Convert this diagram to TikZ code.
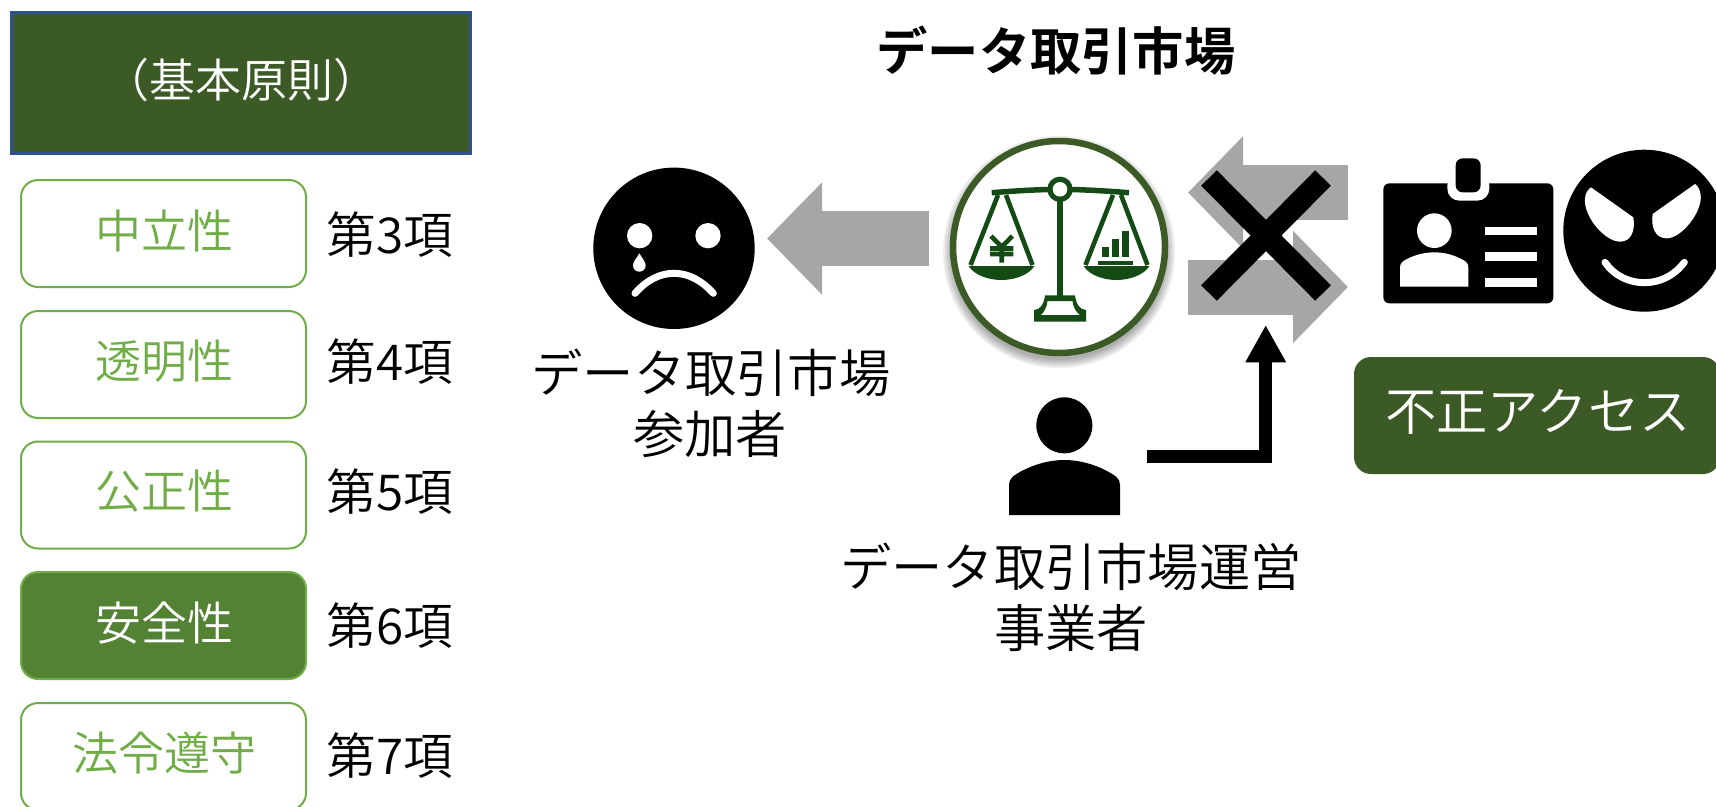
\documentclass[tikz,border=0pt]{standalone}
\usepackage{fontspec}
\usetikzlibrary{arrows.meta}
\setmainfont{Noto Sans CJK JP DemiLight}[BoldFont={Noto Sans CJK JP Bold}]
\definecolor{darkg}{HTML}{3B5A25}
\definecolor{midg}{HTML}{548235}
\definecolor{lightg}{HTML}{70AD47}
\definecolor{iconG}{HTML}{144B14}
\definecolor{edgeblue}{HTML}{2F528F}
\definecolor{grayarrow}{HTML}{A6A6A6}
\tikzset{
  px/.style={font=\fontsize{#1pt}{#1pt}\selectfont},
  basebox/.style={rounded corners=17pt,minimum width=285pt,minimum height=107pt,inner sep=0pt,outer sep=0pt,line width=2pt,draw=lightg,px=46},
  plainbox/.style={basebox,fill=white,text=lightg},
  solidbox/.style={basebox,fill=midg,text=white},
  itemno/.style={inner sep=0pt,px=49.5,text=black},
  caption/.style={inner sep=0pt,px=51.3,text=black},
  graybig/.style={draw=grayarrow,line width=55pt,-{Triangle[length=55pt,width=109pt]},color=grayarrow},
  blackelbow/.style={draw=black,line width=12.7pt,-{Triangle[length=37.3pt,width=38pt]}},
  crossbar/.style={draw=black,line width=22pt},
  face/.style={circle,fill=black,inner sep=0pt,outer sep=0pt},
}
\begin{document}
\begin{tikzpicture}[x=1pt,y=-1pt]
\clip (0,0) rectangle (1716,806);
\fill[white] (0,0) rectangle (1716,806);

% left column
\node[draw=edgeblue,fill=darkg,line width=2.5pt,minimum width=459pt,minimum height=141pt,inner sep=0pt,outer sep=0pt] (hdr) at (241,83) {};
\node[inner sep=0pt,text=white,px=46] (hdrt) at (241,80) {（基本原則）};
\node[plainbox] (b1) at (163.5,233.5) {};
\node[plainbox] (b2) at (163.5,364.5) {};
\node[plainbox] (b3) at (163.5,495) {};
\node[solidbox] (b4) at (163.5,625.5) {};
\node[plainbox] (b5) at (163.5,756.5) {};
\node[inner sep=0pt,text=lightg,px=46] (t1) at (164,231) {中立性};
\node[inner sep=0pt,text=lightg,px=46] (t2) at (164,361) {透明性};
\node[inner sep=0pt,text=lightg,px=46] (t3) at (164,491) {公正性};
\node[inner sep=0pt,text=white,px=46] (t4) at (164,623) {安全性};
\node[inner sep=0pt,text=lightg,px=46] (t5) at (164,753) {法令遵守};
\node[itemno] (n1) at (390,235) {第3項};
\node[itemno] (n2) at (390,362) {第4項};
\node[itemno] (n3) at (390,492) {第5項};
\node[itemno] (n4) at (390,626) {第6項};
\node[itemno] (n5) at (390,756) {第7項};

% title and captions
\node[inner sep=0pt,text=black,font=\fontsize{51.3pt}{51.3pt}\selectfont\bfseries] (title) at (1056,51) {データ取引市場};
\node[caption] (c1) at (711,373) {データ取引市場};
\node[caption] (c2) at (710,434) {参加者};
\node[caption] (c3) at (1071,567) {データ取引市場運営};
\node[caption] (c4) at (1071,628) {事業者};
\node[fill=darkg,rounded corners=17pt,minimum width=366pt,minimum height=117pt,inner sep=0pt,outer sep=0pt] (fraud) at (1537,415.5) {};
\node[inner sep=0pt,px=51.3,text=white] (fraudt) at (1538,412) {不正アクセス};

% gray arrows
\coordinate (ga1) at (929,238.5);
\coordinate (ga2) at (767,238.5);
\coordinate (gb1) at (1348,192.5);
\coordinate (gb2) at (1188,192.5);
\coordinate (gc1) at (1188,287);
\coordinate (gc2) at (1348,287);
\draw[graybig] (ga1) -- (ga2);
\draw[graybig] (gb1) -- (gb2);
\draw[graybig] (gc1) -- (gc2);

% cross
\coordinate (x1) at (1209,178);
\coordinate (x2) at (1323,293);
\coordinate (x3) at (1323,178);
\coordinate (x4) at (1209,293);
\draw[crossbar] (x1) -- (x2);
\draw[crossbar] (x3) -- (x4);

% elbow arrow
\coordinate (e1) at (1147.3,456.7);
\coordinate (e2) at (1265.7,456.7);
\coordinate (e3) at (1265.7,325);
\draw[blackelbow] (e1) -- (e2) -- (e3);

% balance disc with soft shadow
\foreach \r in {232,228,224,220,216}
  \fill[black,opacity=0.07] (1059,252) circle ({\r/2});
\node[circle,draw=darkg,fill=white,line width=6.5pt,minimum size=212pt,inner sep=0pt,outer sep=0pt] (bal) at (1059,247) {};
\begin{scope}[iconG]
  \draw[line width=5.5pt] (991.7,192.7) .. controls (1020,190.5) and (1040,189.5) .. (1060,189.3) .. controls (1080,189.5) and (1100,190.5) .. (1129,192.7);
  \draw[line width=6pt] (1060,189) -- (1060,296);
  \fill[iconG] (1060,189.3) circle (12.7);
  \fill[white] (1060,189.3) circle (7.3);
  % base
  \fill[iconG,even odd rule] (1045,295.3) -- (1075,295.3) .. controls (1076,304) and (1080,310) .. (1086,310) -- (1086,321.7) -- (1034,321.7) -- (1034,310) .. controls (1040,310) and (1044,304) .. (1045,295.3) -- cycle
    (1047.5,301) -- (1072.5,301) .. controls (1073,307) and (1076,312) .. (1080,315) -- (1041,315) .. controls (1044,312) and (1047,307) .. (1047.5,301) -- cycle;
  % left pan
  \draw[line width=4.6pt,line join=round] (998,195) -- (970.5,265) (1006,195) -- (1032.5,265);
  \fill (968.5,266) .. controls (975,276) and (990,280) .. (1001.5,280) .. controls (1013,280) and (1028,276) .. (1034.5,266) -- cycle;
  % right pan
  \draw[line width=4.6pt,line join=round] (1113,195) -- (1085.5,265) (1121,195) -- (1147.5,265);
  \fill (1083.5,266) .. controls (1090,276) and (1105,280) .. (1116.5,280) .. controls (1128,280) and (1143,276) .. (1149.5,266) -- cycle;
  % yen
  \draw[line width=4.6pt] (991,236) -- (1001.7,247) -- (1012.4,236) (1001.7,247) -- (1001.7,262.5) (990,248.5) -- (1013.4,248.5) (990,254) -- (1013.4,254);
  % chart
  \fill (1102,246.7) rectangle (1109.3,257.3);
  \fill (1112,239.3) rectangle (1119,257.3);
  \fill (1121.7,231.3) rectangle (1128.7,257.3);
  \fill (1098,260.7) rectangle (1133,264.7);
\end{scope}

% sad face
\node[face,minimum size=161.4pt] (sad) at (674,248.3) {};
\begin{scope}[shift={(570,150)},x=0.33333pt,y=-0.33333pt,white]
  \fill (209,257) circle (38);
  \fill (414,257) circle (38);
  \fill (208,310) .. controls (200,325) and (189,335) .. (189,346) .. controls (189,358) and (198,365) .. (208,365) .. controls (218,365) and (227,358) .. (227,346) .. controls (227,335) and (216,325) .. (208,310) -- cycle;
  \draw[line width=7pt,line cap=round] (195,430) .. controls (230,390) and (270,370) .. (312,370) .. controls (354,370) and (394,390) .. (430,430);
\end{scope}

% id card
\begin{scope}[shift={(1360,140)},x=0.33333pt,y=-0.33333pt]
  \fill[black,rounded corners=6pt] (70,130) rectangle (580,490);
  \fill[white,rounded corners=12pt] (262,100) rectangle (388,182);
  \fill[black,rounded corners=7pt] (287,55) rectangle (362,157);
  \fill[white] (223,272) circle (52);
  \fill[white] (120,440) -- (120,382) .. controls (120,368) and (130,362) .. (145,355) .. controls (170,343) and (197,337) .. (223,337) .. controls (249,337) and (276,343) .. (300,355) .. controls (315,362) and (325,368) .. (325,382) -- (325,440) -- cycle;
  \fill[white] (376,260) rectangle (530,286);
  \fill[white] (376,337) rectangle (530,362);
  \fill[white] (376,414) rectangle (530,440);
\end{scope}

% evil face
\node[face,minimum size=162pt] (evil) at (1644.3,230.7) {};
\begin{scope}[shift={(1360,140)},x=0.33333pt,y=-0.33333pt,white]
  \fill (693,142) -- (820,232) .. controls (826,270) and (815,305) .. (780,305) .. controls (735,305) and (670,230) .. (675,175) .. controls (676,160) and (684,148) .. (693,142) -- cycle;
  \fill (1005,132) -- (878,222) .. controls (872,260) and (885,295) .. (920,295) .. controls (965,295) and (1028,215) .. (1022,165) .. controls (1020,150) and (1014,138) .. (1005,132) -- cycle;
  \draw[line width=7pt,line cap=round] (735,367) .. controls (765,410) and (810,428) .. (853,428) .. controls (896,428) and (940,410) .. (973,367);
\end{scope}

% person
\begin{scope}[shift={(980,310)},x=0.33333pt,y=-0.33333pt]
  \fill[black] (253,346) circle (84);
  \fill[black] (87,615) -- (87,525) .. controls (87,505) and (100,497) .. (125,483) .. controls (165,462) and (210,450) .. (253,450) .. controls (296,450) and (341,462) .. (381,483) .. controls (406,497) and (420,505) .. (420,525) -- (420,615) -- cycle;
\end{scope}
\end{tikzpicture}
\end{document}
